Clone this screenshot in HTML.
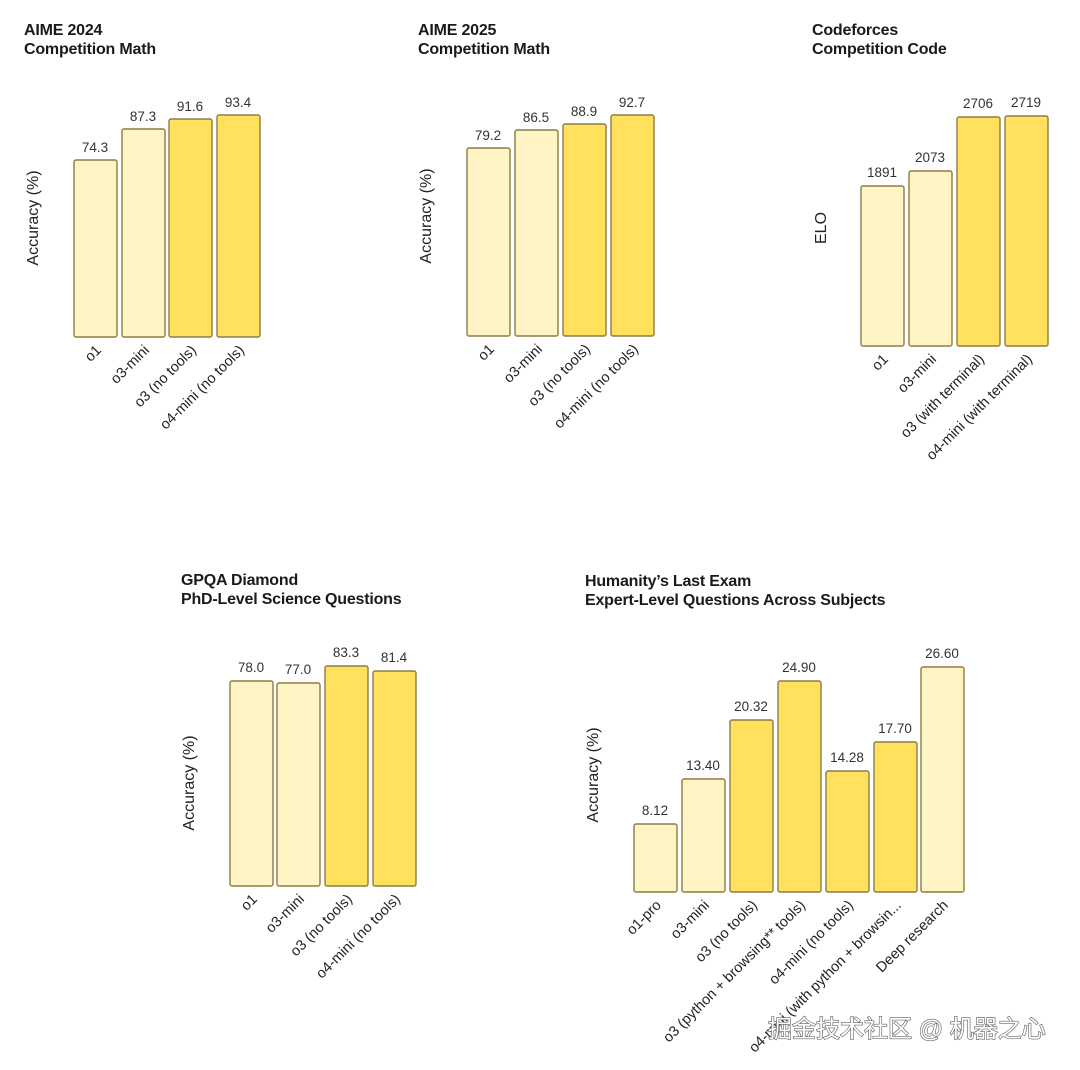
<!DOCTYPE html>
<html><head><meta charset="utf-8"><style>
html,body{margin:0;padding:0;background:#fff}
svg{display:block}
text{font-family:"Liberation Sans","Noto Sans CJK SC",sans-serif;fill:#1a1a1a}
.t{font-size:16px;font-weight:bold;letter-spacing:-0.2px}
.v{font-size:13.5px;text-anchor:middle;fill:#333}
.x{font-size:14.5px;text-anchor:end;fill:#222}
.y{font-size:16px;text-anchor:middle;fill:#222}
.l{fill:#fff4c4;stroke:#8c7d45;stroke-width:1.4}
.d{fill:#ffe15e;stroke:#8c7d45;stroke-width:1.4}
</style></head><body>
<svg width="1080" height="1070" viewBox="0 0 1080 1070">
<!-- Chart 1 -->
<text class="t" x="24" y="35">AIME 2024</text>
<text class="t" x="24" y="54">Competition Math</text>
<text class="y" transform="translate(38,218) rotate(-90)">Accuracy (%)</text>
<rect class="l" x="74" y="160" width="43" height="177" rx="2"/>
<rect class="l" x="122" y="129" width="43" height="208" rx="2"/>
<rect class="d" x="169" y="119" width="43" height="218" rx="2"/>
<rect class="d" x="217" y="115" width="43" height="222" rx="2"/>
<text class="v" x="95" y="152">74.3</text>
<text class="v" x="143" y="121">87.3</text>
<text class="v" x="190" y="111">91.6</text>
<text class="v" x="238" y="107">93.4</text>
<text class="x" transform="translate(102,351) rotate(-45)">o1</text>
<text class="x" transform="translate(150,351) rotate(-45)">o3-mini</text>
<text class="x" transform="translate(197,351) rotate(-45)">o3 (no tools)</text>
<text class="x" transform="translate(245,351) rotate(-45)">o4-mini (no tools)</text>
<!-- Chart 2 -->
<text class="t" x="418" y="35">AIME 2025</text>
<text class="t" x="418" y="54">Competition Math</text>
<text class="y" transform="translate(431,216) rotate(-90)">Accuracy (%)</text>
<rect class="l" x="467" y="148" width="43" height="188" rx="2"/>
<rect class="l" x="515" y="130" width="43" height="206" rx="2"/>
<rect class="d" x="563" y="124" width="43" height="212" rx="2"/>
<rect class="d" x="611" y="115" width="43" height="221" rx="2"/>
<text class="v" x="488" y="140">79.2</text>
<text class="v" x="536" y="122">86.5</text>
<text class="v" x="584" y="116">88.9</text>
<text class="v" x="632" y="107">92.7</text>
<text class="x" transform="translate(495,350) rotate(-45)">o1</text>
<text class="x" transform="translate(543,350) rotate(-45)">o3-mini</text>
<text class="x" transform="translate(591,350) rotate(-45)">o3 (no tools)</text>
<text class="x" transform="translate(639,350) rotate(-45)">o4-mini (no tools)</text>
<!-- Chart 3 -->
<text class="t" x="812" y="35">Codeforces</text>
<text class="t" x="812" y="54">Competition Code</text>
<text class="y" transform="translate(826,228) rotate(-90)">ELO</text>
<rect class="l" x="861" y="186" width="43" height="160" rx="2"/>
<rect class="l" x="909" y="171" width="43" height="175" rx="2"/>
<rect class="d" x="957" y="117" width="43" height="229" rx="2"/>
<rect class="d" x="1005" y="116" width="43" height="230" rx="2"/>
<text class="v" x="882" y="177">1891</text>
<text class="v" x="930" y="162">2073</text>
<text class="v" x="978" y="108">2706</text>
<text class="v" x="1026" y="107">2719</text>
<text class="x" transform="translate(889,360) rotate(-45)">o1</text>
<text class="x" transform="translate(937,360) rotate(-45)">o3-mini</text>
<text class="x" transform="translate(985,360) rotate(-45)">o3 (with terminal)</text>
<text class="x" transform="translate(1033,360) rotate(-45)">o4-mini (with terminal)</text>
<!-- Chart 4 -->
<text class="t" x="181" y="585">GPQA Diamond</text>
<text class="t" x="181" y="604">PhD-Level Science Questions</text>
<text class="y" transform="translate(194,783) rotate(-90)">Accuracy (%)</text>
<rect class="l" x="230" y="681" width="43" height="205" rx="2"/>
<rect class="l" x="277" y="683" width="43" height="203" rx="2"/>
<rect class="d" x="325" y="666" width="43" height="220" rx="2"/>
<rect class="d" x="373" y="671" width="43" height="215" rx="2"/>
<text class="v" x="251" y="672">78.0</text>
<text class="v" x="298" y="674">77.0</text>
<text class="v" x="346" y="657">83.3</text>
<text class="v" x="394" y="662">81.4</text>
<text class="x" transform="translate(258,900) rotate(-45)">o1</text>
<text class="x" transform="translate(305,900) rotate(-45)">o3-mini</text>
<text class="x" transform="translate(353,900) rotate(-45)">o3 (no tools)</text>
<text class="x" transform="translate(401,900) rotate(-45)">o4-mini (no tools)</text>
<!-- Chart 5 -->
<text class="t" x="585" y="586">Humanity’s Last Exam</text>
<text class="t" x="585" y="605">Expert-Level Questions Across Subjects</text>
<text class="y" transform="translate(598,775) rotate(-90)">Accuracy (%)</text>
<rect class="l" x="634" y="824" width="43" height="68" rx="2"/>
<rect class="l" x="682" y="779" width="43" height="113" rx="2"/>
<rect class="d" x="730" y="720" width="43" height="172" rx="2"/>
<rect class="d" x="778" y="681" width="43" height="211" rx="2"/>
<rect class="d" x="826" y="771" width="43" height="121" rx="2"/>
<rect class="d" x="874" y="742" width="43" height="150" rx="2"/>
<rect class="l" x="921" y="667" width="43" height="225" rx="2"/>
<text class="v" x="655" y="815">8.12</text>
<text class="v" x="703" y="770">13.40</text>
<text class="v" x="751" y="711">20.32</text>
<text class="v" x="799" y="672">24.90</text>
<text class="v" x="847" y="762">14.28</text>
<text class="v" x="895" y="733">17.70</text>
<text class="v" x="942" y="658">26.60</text>
<text class="x" transform="translate(662,906) rotate(-45)">o1-pro</text>
<text class="x" transform="translate(710,906) rotate(-45)">o3-mini</text>
<text class="x" transform="translate(758,906) rotate(-45)">o3 (no tools)</text>
<text class="x" transform="translate(806,906) rotate(-45)">o3 (python + browsing** tools)</text>
<text class="x" transform="translate(854,906) rotate(-45)">o4-mini (no tools)</text>
<text class="x" transform="translate(902,906) rotate(-45)">o4-mini (with python + browsin...</text>
<text class="x" transform="translate(949,906) rotate(-45)">Deep research</text>
<!-- watermark -->
<text x="768" y="1037" style="font-size:24px;fill:#fff;stroke:#666;stroke-width:1.3;paint-order:stroke">掘金技术社区 @ 机器之心</text>
</svg>
</body></html>
